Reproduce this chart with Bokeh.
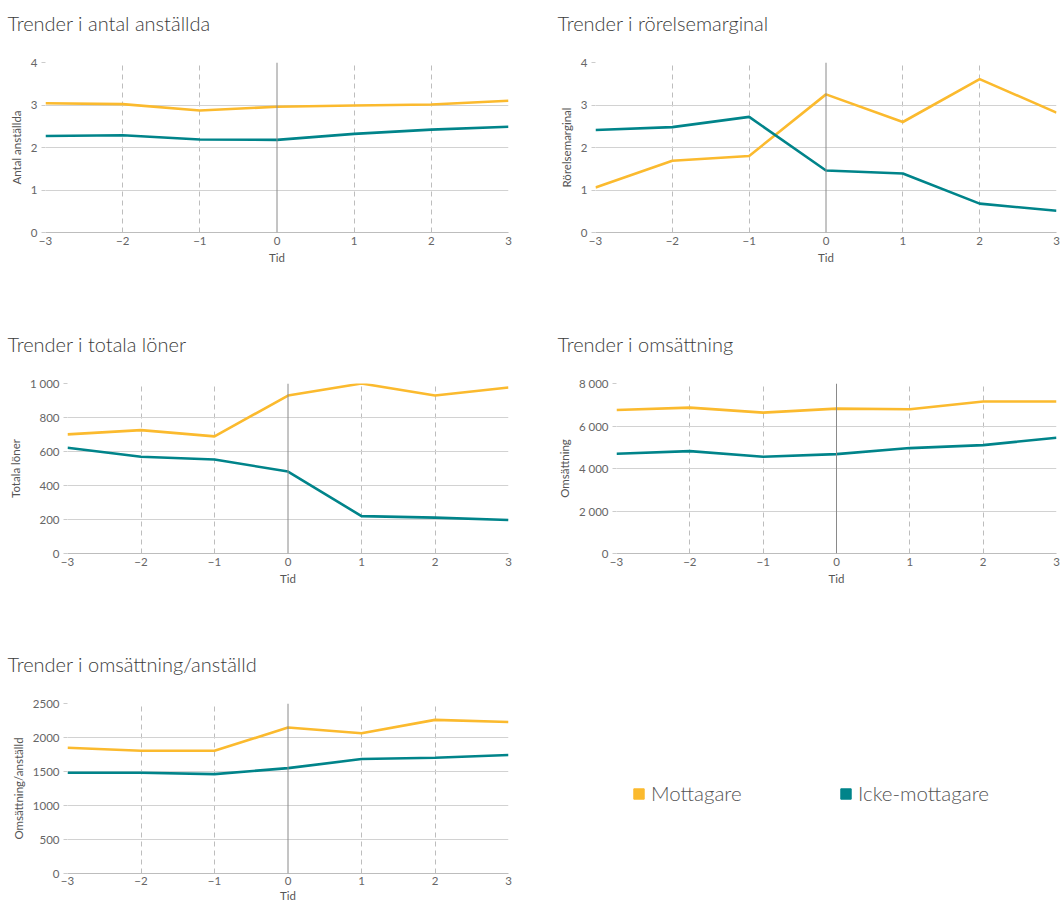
from bokeh.plotting import figure
from bokeh.models import Range1d, FixedTicker, Span, Legend, LegendItem
from bokeh.layouts import row, column
from bokeh.embed import file_html
from bokeh.resources import INLINE

# ---------------- data ----------------
tid = [-3, -2, -1, 0, 1, 2, 3]
tid_labels = ["\u22123", "\u22122", "\u22121", "0", "1", "2", "3"]

serie_namn = ["Mottagare", "Icke-mottagare"]

anst_mott = [3.04, 3.02, 2.87, 2.96, 2.99, 3.01, 3.10]
anst_icke = [2.27, 2.29, 2.19, 2.18, 2.32, 2.42, 2.49]

rm_mott = [1.06, 1.69, 1.80, 3.25, 2.60, 3.61, 2.82]
rm_icke = [2.41, 2.48, 2.72, 1.46, 1.39, 0.68, 0.51]

lon_mott = [701, 726, 689, 929, 1000, 929, 976]
lon_icke = [622, 569, 553, 482, 220, 211, 197]

oms_mott = [6756, 6866, 6630, 6819, 6787, 7150, 7150]
oms_icke = [4693, 4819, 4551, 4677, 4961, 5102, 5449]

opa_mott = [1850, 1806, 1806, 2146, 2062, 2259, 2229]
opa_icke = [1481, 1481, 1462, 1550, 1683, 1703, 1742]

ticks_small = [0, 1, 2, 3, 4]
labels_small = ["0", "1", "2", "3", "4"]
ticks_lon = [0, 200, 400, 600, 800, 1000]
labels_lon = ["0", "200", "400", "600", "800", "1\u202f000"]
ticks_oms = [0, 2000, 4000, 6000, 8000]
labels_oms = ["0", "2\u202f000", "4\u202f000", "6\u202f000", "8\u202f000"]
ticks_opa = [0, 500, 1000, 1500, 2000, 2500]
labels_opa = ["0", "500", "1000", "1500", "2000", "2500"]

# ---------------- style ----------------
FONT = "Lato"
FONT_LIGHT = "Lato Light"
C_MOTT = "#FBBA2E"
C_ICKE = "#00848A"
TXT = "#555555"
FRAME_TOP = 62
FRAME_H = 170


def make_chart(title, ylabel, mott, icke, yticks, ylabels, width, height,
               border_left, border_right, title_x, tight=False):
    p = figure(width=width, height=height, output_backend="svg",
               toolbar_location=None,
               x_range=Range1d(tid[0], tid[-1]),
               y_range=Range1d(yticks[0], yticks[-1]),
               min_border_left=border_left, min_border_right=border_right,
               min_border_top=FRAME_TOP,
               min_border_bottom=height - FRAME_TOP - FRAME_H)
    p.outline_line_color = None
    p.background_fill_color = "white"
    p.border_fill_color = "white"

    # a trailing empty line gives the gap between the title and the frame
    p.title.text = title + "\n"
    p.title.text_font = FONT_LIGHT
    p.title.text_font_size = "20px"
    p.title.text_font_style = "normal"
    p.title.text_line_height = 0.7
    p.title.text_color = "#3c3c3c"
    p.title.align = "left"
    p.title.vertical_align = "top"
    p.title.offset = title_x - border_left
    p.title.standoff = 18

    # axes
    xa = p.below[0]
    ya = p.left[0]
    xa.ticker = FixedTicker(ticks=tid)
    xa.major_label_overrides = {t: l for t, l in zip(tid, tid_labels)}
    ya.ticker = FixedTicker(ticks=yticks)
    ya.major_label_overrides = {t: l for t, l in zip(yticks, ylabels)}
    xa.axis_label = "Tid"
    ya.axis_label = ylabel
    for ax in (xa, ya):
        ax.major_label_text_font = FONT
        ax.major_label_text_font_size = "11.5px"
        ax.major_label_text_color = "#666666"
        ax.axis_label_text_font = FONT
        ax.axis_label_text_font_size = "11.5px"
        ax.axis_label_text_font_style = "normal"
        ax.axis_label_text_color = TXT
        ax.minor_tick_line_color = None
    xa.axis_line_color = "#bdbdbd"
    xa.major_tick_line_color = None
    xa.major_tick_out = 0
    xa.major_label_standoff = 3 if tight else 4
    xa.axis_label_standoff = 1 if tight else 3
    ya.axis_line_color = None
    ya.major_tick_line_color = "#cccccc"
    ya.major_tick_out = 4
    ya.major_tick_in = 0
    ya.major_label_standoff = 4
    ya.axis_label_standoff = 5

    # grids
    p.ygrid.grid_line_color = "#d2d2d2"
    p.ygrid.grid_line_width = 1
    p.xgrid.ticker = FixedTicker(ticks=[t for t in tid if t != 0])
    p.xgrid.grid_line_color = "#bdbdbd"
    p.xgrid.grid_line_dash = "5 4"
    p.xgrid.grid_line_width = 1

    p.add_layout(Span(location=0, dimension="height", line_color="#8a8a8a",
                      line_width=1))

    p.line(tid, mott, line_color=C_MOTT, line_width=2.6)
    p.line(tid, icke, line_color=C_ICKE, line_width=2.6)
    return p


W_L = 550
W_R = 511
H1 = 321
H2 = 320
H3 = 264

p1 = make_chart("Trender i antal anställda", "Antal anställda", anst_mott, anst_icke,
                ticks_small, labels_small, W_L, H1, 45, 42, 7)
p2 = make_chart("Trender i rörelsemarginal", "Rörelsemarginal", rm_mott, rm_icke,
                ticks_small, labels_small, W_R, H1, 45, 5, 7)
p3 = make_chart("Trender i totala löner", "Totala löner", lon_mott, lon_icke,
                ticks_lon, labels_lon, W_L, H2, 67, 42, 7)
p4 = make_chart("Trender i omsättning", "Omsättning", oms_mott, oms_icke,
                ticks_oms, labels_oms, W_R, H2, 66, 5, 7)
p5 = make_chart("Trender i omsättning/anställd", "Omsättning/anställd", opa_mott, opa_icke,
                ticks_opa, labels_opa, W_L, H3, 67, 42, 7, tight=True)


# legend panels: one small figure per legend item (frames align with p5's frame)
def legend_panel(name, color, width):
    pl = figure(width=width, height=H3, output_backend="svg", toolbar_location=None,
                x_range=Range1d(0, 1), y_range=Range1d(0, 1),
                min_border_left=4, min_border_top=FRAME_TOP,
                min_border_right=0, min_border_bottom=0)
    pl.axis.visible = False
    pl.grid.visible = False
    pl.outline_line_color = None
    pl.background_fill_color = "white"
    pl.border_fill_color = "white"
    nan = float("nan")
    r = pl.rect(x=[nan], y=[nan], width=1, height=1, fill_color=color, line_color=color)
    lg = Legend(items=[LegendItem(label=name, renderers=[r])], location="top_left",
                glyph_width=13, glyph_height=13, label_standoff=6,
                label_text_font=FONT_LIGHT, label_text_font_size="20.5px",
                label_text_color=TXT, border_line_color=None,
                background_fill_alpha=0, padding=0, margin=78, spacing=0)
    pl.add_layout(lg, "center")
    return pl


pl1 = legend_panel(serie_namn[0], C_MOTT, 207)
pl2 = legend_panel(serie_namn[1], C_ICKE, W_R - 207)

layout = column(row(p1, p2), row(p3, p4), row(p5, pl1, pl2))

open("out.html", "w").write(file_html(layout, INLINE))
